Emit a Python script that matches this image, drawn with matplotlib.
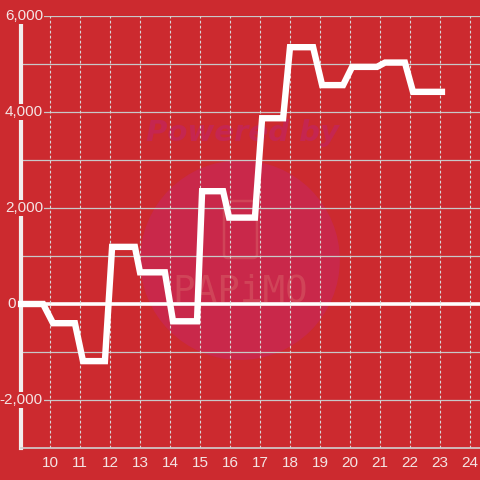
import matplotlib
matplotlib.use("Agg")
import matplotlib.pyplot as plt
from matplotlib.patches import Circle, FancyBboxPatch
from matplotlib.transforms import blended_transform_factory

# step line vertices (hour, value)
hours = [8.93, 9.77, 10.1, 10.83, 11.1, 11.83, 12.07, 12.83, 13.0, 13.83,
         14.1, 14.9, 15.07, 15.77, 15.97, 16.83, 17.07, 17.77, 18.0, 18.77,
         19.07, 19.77, 20.07, 20.9, 21.17, 21.83, 22.1, 23.17]
values = [0, 0, -400, -400, -1190, -1190, 1190, 1190, 660, 660,
          -360, -360, 2350, 2350, 1800, 1800, 3870, 3870, 5350, 5350,
          4560, 4560, 4940, 4940, 5030, 5030, 4420, 4420]

x_ticks = list(range(10, 25))
y_ticks = [-2000, 0, 2000, 4000, 6000]
y_grid = list(range(-2000, 7000, 1000))

bg = "#cc2a2f"
txt = "#f4e4e4"
plt.rcParams["font.family"] = ["Liberation Sans", "DejaVu Sans"]

fig = plt.figure(figsize=(4.8, 4.8), dpi=100, facecolor=bg)
ax = fig.add_axes([21 / 480, 32 / 480, 459 / 480, 432 / 480])
ax.set_facecolor(bg)
ax.set_xlim(9.033, 24.333)
ax.set_ylim(-3000, 6000)

# watermark
ax.add_patch(Circle((0.5, 0.458), 0.208, transform=fig.transFigure,
                    facecolor="#c9284a", edgecolor="none", zorder=0.5))
ax.add_patch(FancyBboxPatch((224 / 480, 222 / 480), 33 / 480, 57 / 480,
                            boxstyle="round,pad=0,rounding_size=0.008",
                            transform=fig.transFigure, facecolor="none",
                            edgecolor="#d04458", lw=1.8, zorder=0.6))
ax.text(0.505, 1 - 133 / 480, "Powered by", ha="center", va="center",
        fontsize=21, fontweight="heavy", style="italic", color="#c52650",
        family="DejaVu Sans", transform=fig.transFigure, zorder=0.6)
ax.text(0.50, 1 - 291 / 480, "PAPiMO", ha="center", va="center",
        fontsize=27, family="DejaVu Sans Mono", color="#d04458",
        transform=fig.transFigure, zorder=0.6)

# grid
for v in y_grid:
    if v == 0:
        ax.axhline(0, color="white", lw=2.6, zorder=1)
    else:
        ax.axhline(v, color="#c8c8c8", lw=0.9, zorder=1)
for h in x_ticks:
    ax.axvline(h, color="#d8d8d8", lw=0.8, ls=(0, (2.5, 2)), zorder=1)

ax.plot(hours, values, color="white", lw=4.6, solid_joinstyle="miter",
        solid_capstyle="butt", zorder=4, clip_on=False)

for s in ["top", "right"]:
    ax.spines[s].set_visible(False)
ax.spines["left"].set_color("#f2eeee")
ax.spines["left"].set_linewidth(3)
ax.spines["left"].set_zorder(2)
ax.spines["bottom"].set_color("#d0d0d0")
ax.spines["bottom"].set_linewidth(1.2)

ax.set_xticks(x_ticks)
ax.set_xticklabels([str(h) for h in x_ticks])
ax.set_yticks([])
ax.tick_params(length=0, colors=txt, labelsize=11)
ax.tick_params(axis="x", pad=6)

# y labels sit over the axis line with a background box
tr = blended_transform_factory(ax.transAxes, ax.transData)
for v in y_ticks:
    xr = -5 / 459 if v == 0 else 22 / 459
    ax.text(xr, v, f"{v:,}", transform=tr, ha="right", va="center",
            fontsize=11, color=txt, zorder=3, clip_on=False,
            bbox=dict(facecolor=bg, edgecolor="none", pad=1.0))

fig.savefig("out.png", dpi=100, facecolor=bg)
